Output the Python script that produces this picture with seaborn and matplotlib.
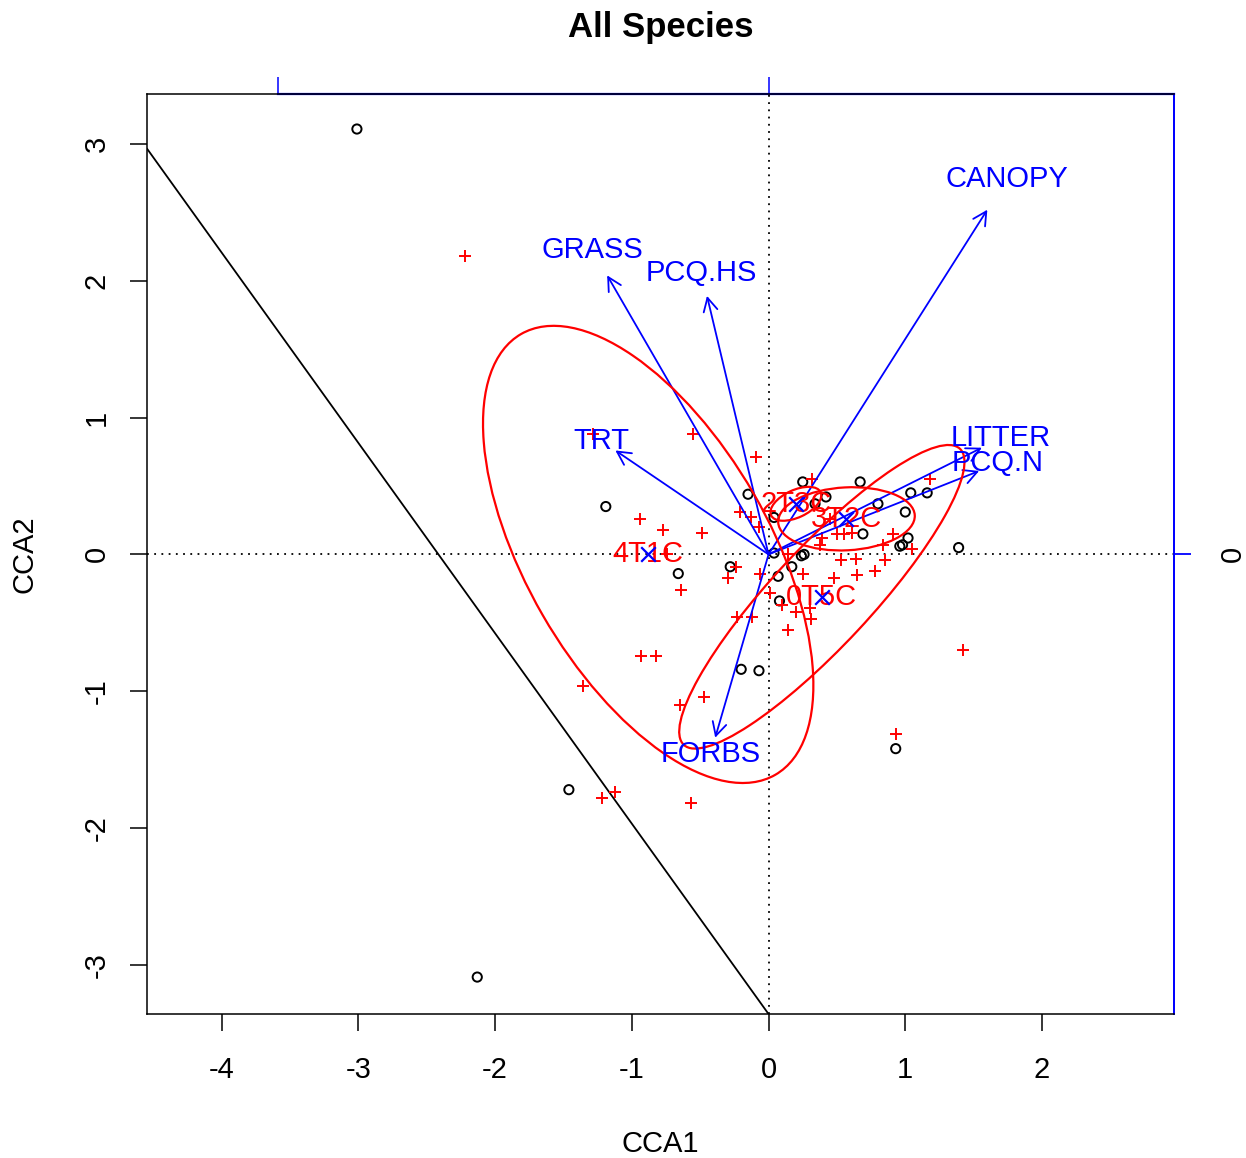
import numpy as np
import pandas as pd
import matplotlib
matplotlib.use("Agg")
import matplotlib.pyplot as plt
import seaborn as sns
from matplotlib.patches import Ellipse, FancyArrowPatch

# Site scores (black circles)
site_cca1 = [-3.01, -2.13, -1.46, -1.19, -0.66, -0.28, -0.20, -0.07, -0.15, 0.04,
             0.04, 0.07, 0.08, 0.17, 0.24, 0.26, 0.25, 0.34, 0.42, 0.67,
             0.80, 0.69, 1.04, 1.16, 1.00, 1.02, 0.96, 0.98, 1.39, 0.93]
site_cca2 = [3.11, -3.09, -1.72, 0.35, -0.14, -0.09, -0.84, -0.85, 0.44, 0.27,
             0.01, -0.16, -0.34, -0.09, -0.01, 0.00, 0.53, 0.37, 0.42, 0.53,
             0.37, 0.15, 0.45, 0.45, 0.31, 0.12, 0.06, 0.07, 0.05, -1.42]

# Species scores (red crosses)
spec_cca1 = [-2.22, -1.28, -0.55, -0.09, -0.94, -0.77, -0.49, -0.74, -0.64, -0.93,
             -0.82, -1.36, -0.65, -0.47, -1.22, -1.12, -0.57, 0.93, 1.42, 1.18,
             0.32, -0.21, -0.13, -0.07, -0.24, -0.30, -0.06, 0.14, 0.25, 0.48,
             0.65, 0.01, 0.10, 0.20, 0.30, 0.31, -0.23, -0.12, 0.14, 0.39,
             0.38, 0.50, 0.55, 0.61, 0.45, 0.53, 0.64, 0.91, 0.84, 1.05,
             0.85, 0.78]
spec_cca2 = [2.18, 0.88, 0.88, 0.71, 0.26, 0.18, 0.16, 0.00, -0.26, -0.74,
             -0.74, -0.96, -1.10, -1.04, -1.78, -1.74, -1.82, -1.31, -0.70, 0.55,
             0.55, 0.31, 0.27, 0.20, -0.09, -0.17, -0.14, 0.00, -0.14, -0.17,
             -0.15, -0.28, -0.37, -0.42, -0.39, -0.47, -0.46, -0.46, -0.55, 0.12,
             0.07, 0.15, 0.15, 0.16, 0.26, -0.04, -0.03, 0.15, 0.07, 0.04,
             -0.04, -0.12]

# Environmental biplot vectors
env_names = ["CANOPY", "GRASS", "PCQ.HS", "TRT", "LITTER", "PCQ.N", "FORBS"]
env_cca1 = [1.60, -1.18, -0.45, -1.12, 1.56, 1.54, -0.39]
env_cca2 = [2.52, 2.04, 1.89, 0.76, 0.78, 0.61, -1.34]

# Treatment group centroids and their dispersion ellipses
groups = ["2T3C", "3T2C", "4T1C", "0T5C"]
group_cca1 = [0.20, 0.57, -0.88, 0.39]
group_cca2 = [0.37, 0.26, 0.00, -0.31]
ell_major = [0.20, 0.50, 1.86, 1.48]
ell_minor = [0.10, 0.23, 0.89, 0.36]
ell_angle = [25, 3, 120.0, 47]

# Reference line
line_intercept = -3.36
line_slope = -1.392

xticks = [-4, -3, -2, -1, 0, 1, 2]
yticks = [-3, -2, -1, 0, 1, 2, 3]
top_ticks = [-3.587, 0]

sites = pd.DataFrame({"CCA1": site_cca1, "CCA2": site_cca2})
species = pd.DataFrame({"CCA1": spec_cca1, "CCA2": spec_cca2})
cents = pd.DataFrame({"CCA1": group_cca1, "CCA2": group_cca2, "grp": groups})

sns.set_style("white")
plt.rcParams["font.family"] = ["Liberation Sans", "DejaVu Sans"]
plt.rcParams.update({"text.color": "black", "axes.labelcolor": "black",
                     "xtick.color": "black", "ytick.color": "black"})

fig = plt.figure(figsize=(12.46, 11.58), dpi=100)
ax = fig.add_axes([147 / 1246, 144 / 1158, 1027 / 1246, 920 / 1158])
ax.set_xlim(-4.545, 2.965)
ax.set_ylim(-3.36, 3.366)

fs = 21
ax.axhline(0, color="black", lw=1.3, ls=(0, (1, 3)), zorder=1)
ax.axvline(0, color="black", lw=1.3, ls=(0, (1, 3)), zorder=1)

sns.scatterplot(data=sites, x="CCA1", y="CCA2", marker="o", s=44,
                facecolor="none", edgecolor="black", linewidth=1.4, ax=ax, zorder=3)
sns.scatterplot(data=species, x="CCA1", y="CCA2", marker="+", s=78,
                color="red", linewidth=1.4, ax=ax, zorder=3)

# biplot arrows
for name, ex, ey in zip(env_names, env_cca1, env_cca2):
    arr = FancyArrowPatch((0, 0), (ex, ey),
                          arrowstyle="->,head_length=0.8,head_width=0.42",
                          mutation_scale=12, color="blue", lw=1.3,
                          shrinkA=0, shrinkB=0, zorder=4)
    ax.add_patch(arr)
    ax.text(ex * 1.09, ey * 1.09, name, color="blue", fontsize=fs,
            ha="center", va="center", zorder=5)

# treatment ellipses
for cx, cy, a, b, ang in zip(group_cca1, group_cca2, ell_major, ell_minor, ell_angle):
    ax.add_patch(Ellipse((cx, cy), 2 * a, 2 * b, angle=ang, fill=False,
                         edgecolor="red", lw=1.6, zorder=4))

for g, cx, cy in zip(groups, group_cca1, group_cca2):
    ax.text(cx, cy, g, color="red", fontsize=fs, ha="center", va="center", zorder=5)
sns.scatterplot(data=cents, x="CCA1", y="CCA2", marker="x", s=110,
                color="blue", linewidth=1.6, ax=ax, zorder=6)

ax.axline((0, line_intercept), slope=line_slope, color="black", lw=1.3, zorder=2)

# axes styling
ax.set_xticks(xticks)
ax.set_yticks(yticks)
ax.set_xticklabels([str(v) for v in xticks])
ax.set_yticklabels([str(v) for v in yticks])
ax.tick_params(axis="both", which="major", direction="out", length=12, width=1.1,
               color="black", labelcolor="black", labelsize=fs, left=True, bottom=True)
ax.tick_params(axis="x", pad=18)
ax.tick_params(axis="y", pad=14)
plt.setp(ax.get_yticklabels(), rotation=90, va="center")
for side in ["left", "bottom", "top"]:
    ax.spines[side].set_color("black")
    ax.spines[side].set_linewidth(1.1)
ax.spines["right"].set_color("blue")
ax.spines["right"].set_linewidth(1.3)

secx = ax.secondary_xaxis("top")
secx.set_xticks(top_ticks)
secx.set_xticklabels(["", ""])
secx.tick_params(direction="out", length=12, width=1.1, color="blue")
secx.spines["top"].set_color("blue")
secx.spines["top"].set_linewidth(1.6)
secx.spines["top"].set_bounds(top_ticks[0], 2.965)

secy = ax.secondary_yaxis("right")
secy.set_yticks([0])
secy.set_yticklabels(["0"])
secy.tick_params(direction="out", length=12, width=1.3, color="blue",
                 labelcolor="black", labelsize=fs, pad=20)
plt.setp(secy.get_yticklabels(), rotation=90, va="center")
secy.spines["right"].set_color("blue")
secy.spines["right"].set_linewidth(1.3)

ax.set_xlabel("CCA1", fontsize=fs)
ax.set_ylabel("")
ax.xaxis.set_label_coords(0.5, -0.126)
fig.text(25 / 1246, 1 - 554 / 1158, "CCA2", fontsize=fs, rotation=90,
         ha="center", va="center")
ax.set_title("All Species", fontsize=25, fontweight="bold", pad=41)

fig.savefig("out.png", dpi=100)
